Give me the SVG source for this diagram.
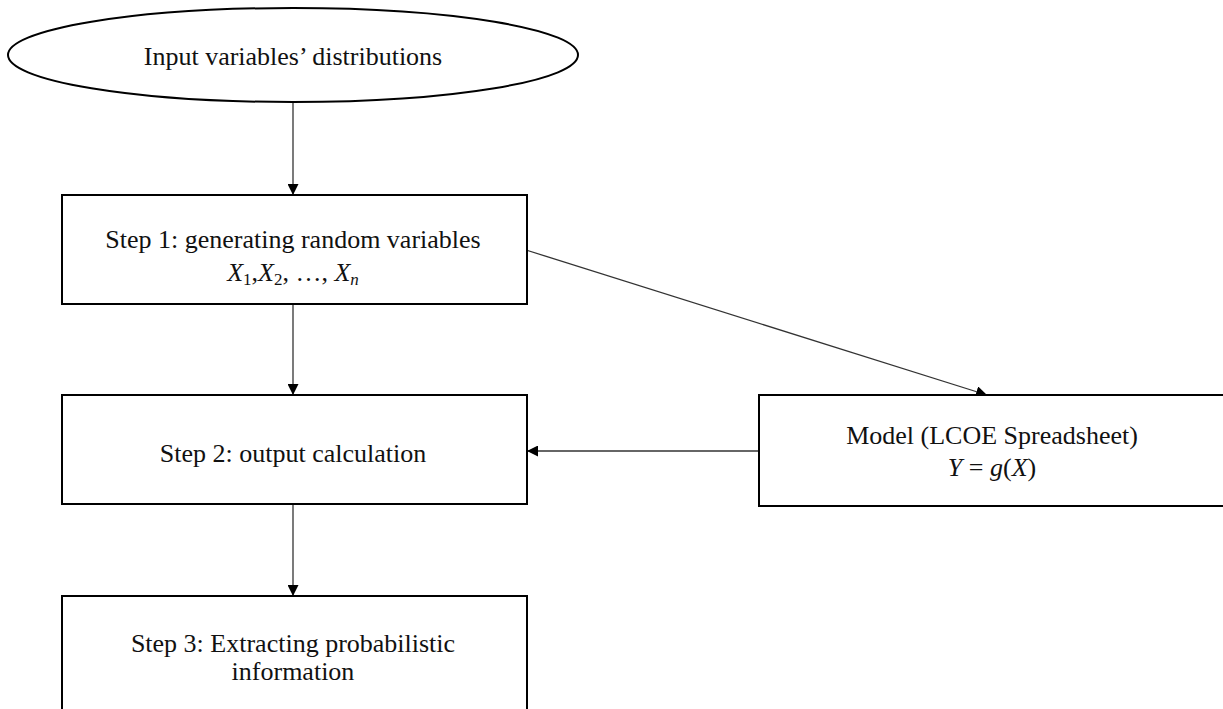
<svg xmlns="http://www.w3.org/2000/svg" width="1223" height="709" viewBox="0 0 1223 709">
<style>
.box{fill:#fff;stroke:#000;stroke-width:2}
.t{font-family:"Liberation Serif","Times New Roman",serif;font-size:26px;fill:#111;text-anchor:middle}
.m{font-family:"Liberation Serif",serif;font-size:26px;fill:#111;text-anchor:middle;font-style:italic}
.c{stroke:#333;stroke-width:1.3;fill:none;marker-end:url(#ah)}
</style>
<defs>
<marker id="ah" viewBox="0 0 10 10" refX="10" refY="5" markerWidth="11" markerHeight="11" markerUnits="userSpaceOnUse" orient="auto">
<path d="M0,0 L10,5 L0,10 z" fill="#000"/>
</marker>
</defs>
<rect width="1223" height="709" fill="#fff"/>
<g id="connectors">
<line class="c" x1="293" y1="102" x2="293" y2="195"/>
<line class="c" x1="293" y1="305" x2="293" y2="395"/>
<line class="c" x1="293" y1="504" x2="293" y2="596"/>
<line class="c" x1="526" y1="250" x2="987" y2="395"/>
<line class="c" x1="759" y1="451" x2="527" y2="451"/>
</g>
<g id="input">
<ellipse class="box" cx="293" cy="55" rx="285" ry="47"/>
<text class="t" x="293" y="65">Input variables’ distributions</text>
</g>
<g id="step1">
<rect class="box" x="62" y="195" width="465" height="109"/>
<text class="t" x="293" y="248">Step 1: generating random variables</text>
<text class="m" x="293" y="281">X<tspan font-style="normal" font-size="17" dy="4">1</tspan><tspan dy="-4" font-style="normal">,</tspan>X<tspan font-style="normal" font-size="17" dy="4">2</tspan><tspan dy="-4" font-style="normal">, …, </tspan>X<tspan font-size="17" dy="4">n</tspan></text>
</g>
<g id="step2">
<rect class="box" x="62" y="395" width="465" height="109"/>
<text class="t" x="293" y="462">Step 2: output calculation</text>
</g>
<g id="model">
<rect class="box" x="759" y="395" width="470" height="111"/>
<text class="t" x="992" y="444">Model (LCOE Spreadsheet)</text>
<text class="m" x="992" y="476">Y <tspan font-style="normal"> = </tspan>g<tspan font-style="normal">(</tspan>X<tspan font-style="normal">)</tspan></text>
</g>
<g id="step3">
<rect class="box" x="62" y="596" width="465" height="120"/>
<text class="t" x="293" y="652">Step 3: Extracting probabilistic</text>
<text class="t" x="293" y="680">information</text>
</g>
</svg>
